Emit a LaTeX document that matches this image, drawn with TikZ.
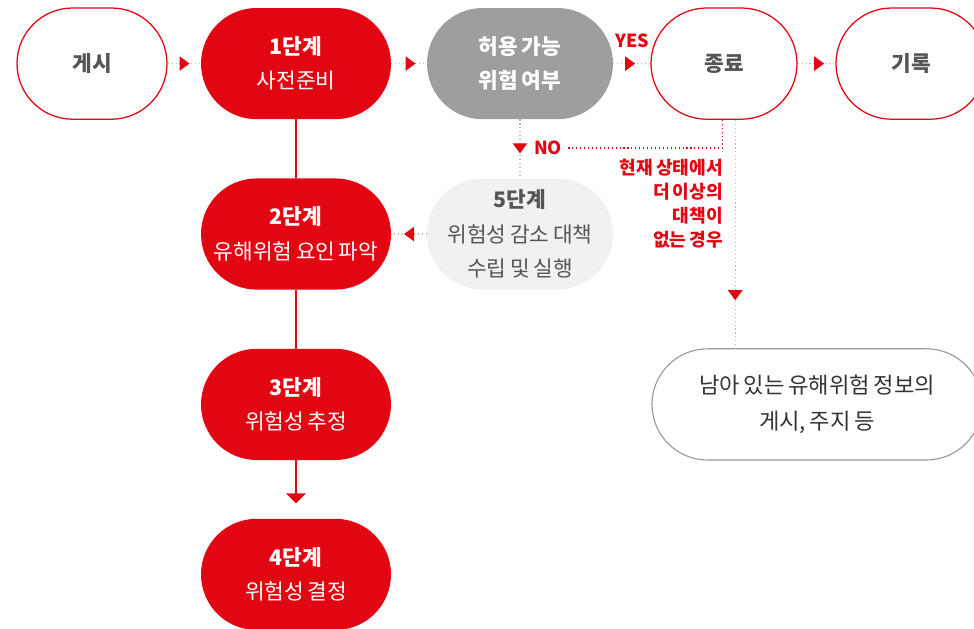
\documentclass[tikz,border=0pt]{standalone}
\usepackage{fontspec}
\setmainfont[WordSpace=0.75]{Noto Sans CJK KR}
\usetikzlibrary{arrows.meta,decorations.markings}
\definecolor{tred}{HTML}{E20613}
\definecolor{qgray}{HTML}{9E9E9E}
\definecolor{lgray}{HTML}{F1F1F1}
\definecolor{tgray}{HTML}{555555}
\definecolor{dotgray}{HTML}{B5B5B5}
\tikzset{
  pill/.style={rounded corners=1.39cm, minimum height=2.78cm, align=center, font=\fontsize{15.2}{24.5}\selectfont},
  stage/.style={pill, fill=tred, text=white, minimum width=4.75cm},
  endbox/.style={pill, draw=tred, line width=0.9pt, text=tgray, minimum width=3.7cm},
  flow/.style={draw=dotgray, dotted, line width=0.8pt, postaction={decorate, decoration={markings, mark=at position -#1 with {\arrow{Triangle[length=0.25cm, width=0.36cm, color=tred]}}}}},
  flow/.default=0.28cm,
  redlink/.style={draw=tred, line width=1pt},
  tag/.style={text=tred, font=\fontsize{12.8}{15}\selectfont\bfseries}
}
\begin{document}
\begin{tikzpicture}
\useasboundingbox (0,0) rectangle (24.35,-15.725);
\node[endbox, minimum width=3.75cm] (post) at (2.3,-1.59) {\textbf{게시}};
\node[stage] (st1) at (7.4,-1.59) {\textbf{1단계}\\사전준비};
\node[pill, fill=qgray, text=white, minimum width=4.65cm] (check) at (13,-1.59) {\textbf{허용 가능}\\\textbf{위험 여부}};
\node[endbox, minimum width=3.65cm] (done) at (18.1,-1.59) {\textbf{종료}};
\node[endbox, minimum width=3.75cm] (rec) at (22.775,-1.59) {\textbf{기록}};
\node[stage] (st2) at (7.4,-5.85) {\textbf{2단계}\\유해위험 요인 파악};
\node[stage] (st3) at (7.4,-10.11) {\textbf{3단계}\\위험성 추정};
\node[stage] (st4) at (7.4,-14.36) {\textbf{4단계}\\위험성 결정};
\node[pill, fill=lgray, text=tgray, minimum width=4.65cm] (st5) at (13,-5.85) {\textbf{5단계}\\위험성 감소 대책\\수립 및 실행};
\node[pill, draw=gray!80, line width=0.8pt, text=black!80, minimum width=8.25cm, font=\fontsize{15.8}{25.5}\selectfont] (info) at (20.425,-10.11) {남아 있는 유해위험 정보의\\게시, 주지 등};
\node[tag] (yes) at (15.8,-1.02) {YES};
\node[tag] (no) at (13.7,-3.7) {NO};
\node[tag, font=\fontsize{12.9}{17}\selectfont\bfseries, align=right, anchor=east, inner sep=0pt] (cond) at (18.08,-5.1) {현재 상태에서\\더 이상의\\대책이\\없는 경우};
\draw[flow] (post) -- (st1);
\draw[flow] (st1) -- (check);
\draw[flow=0.38cm] (check) -- (done);
\draw[flow] (done) -- (rec);
\draw[redlink] (st1) -- (st2);
\draw[redlink] (st2) -- (st3);
\draw[redlink, -{Triangle[length=0.25cm, width=0.5cm]}, shorten >=0.38cm] (st3) -- (st4);
\draw[flow=0.62cm] (check) -- (st5);
\draw[flow=0.32cm] (st5) -- (st2);
\draw[draw=tred, dotted, line width=0.8pt] ([xshift=-0.04cm]done.south) |- (no);
\draw[flow=1.2cm] ([xshift=0.28cm]done.south) -- ([xshift=0.28cm]done.south |- info.north);
\end{tikzpicture}
\end{document}
